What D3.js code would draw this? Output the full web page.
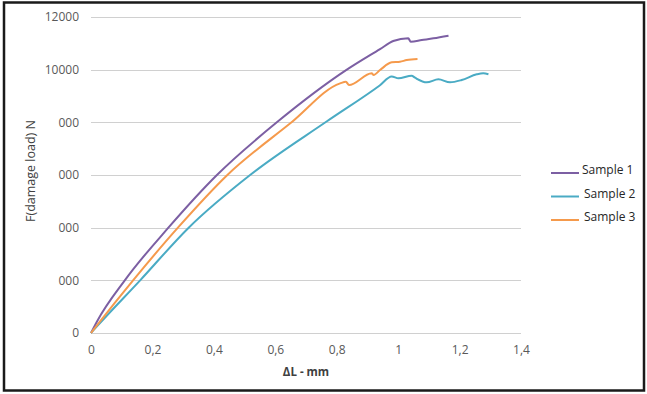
<!DOCTYPE html>
<html><head><meta charset="utf-8">
<script src="https://cdn.jsdelivr.net/npm/d3@7"></script>
<style>body{margin:0;background:#fff}svg{display:block}</style>
</head><body>
<script>
const seriesNames = ["Sample 1", "Sample 2", "Sample 3"];
const seriesColors = ["#7c5fa3", "#4aabc4", "#f59a4c"];
const xTicks = [0, 0.2, 0.4, 0.6, 0.8, 1, 1.2, 1.4];
const xTickLabels = ["0", "0,2", "0,4", "0,6", "0,8", "1", "1,2", "1,4"];
const yTicks = [0, 2000, 4000, 6000, 8000, 10000, 12000];
const yTickLabels = ["0", "000", "000", "000", "000", "10000", "12000"];

const sample1 = [[0,0],[0.02,450],[0.11,2000],[0.252,4000],[0.41,6000],[0.605,8000],[0.833,10000],[0.941,10780],[0.984,11087],[1.033,11190],[1.041,11062],[1.077,11125],[1.115,11190],[1.164,11290]];
const sample2 = [[0,0],[0.02,260],[0.16,2000],[0.318,4000],[0.518,6000],[0.767,8030],[0.94,9400],[0.979,9740],[1.001,9671],[1.044,9770],[1.055,9694],[1.093,9519],[1.131,9633],[1.169,9519],[1.207,9607],[1.256,9823],[1.277,9861],[1.294,9823]];
const sample3 = [[0,0],[0.02,300],[0.137,2000],[0.283,4000],[0.444,6000],[0.653,8000],[0.811,9481],[0.830,9542],[0.840,9417],[0.914,9861],[0.92,9800],[0.941,9986],[0.979,10278],[1.006,10300],[1.028,10366],[1.063,10404]];
const seriesData = [sample1, sample2, sample3];

const W = 647, H = 394;
const svg = d3.select("body").append("svg").attr("width", W).attr("height", H);
const font = "'Open Sans', sans-serif";

svg.append("rect").attr("x", 4).attr("y", 2.5).attr("width", 640).attr("height", 388)
  .attr("fill", "#fff").attr("stroke", "#1a1a1a").attr("stroke-width", 2.5);

const x = d3.scaleLinear().domain([0, 1.4]).range([91, 521]);
const y = d3.scaleLinear().domain([0, 12000]).range([333, 17]);

// gridlines
svg.append("g").selectAll("line").data(yTicks).join("line")
  .attr("x1", 91).attr("x2", 521)
  .attr("y1", d => Math.round(y(d)) + 0.5).attr("y2", d => Math.round(y(d)) + 0.5)
  .attr("stroke", "#d0d0d0").attr("stroke-width", 1.2);

// y axis labels
const yAxis = d3.axisLeft(y).tickValues(yTicks).tickSize(0).tickPadding(12)
  .tickFormat((d, i) => yTickLabels[i]);
const gy = svg.append("g").attr("transform", "translate(91,0)").call(yAxis);
gy.select(".domain").remove();
gy.selectAll("text").attr("font-family", font).attr("font-size", 12).attr("fill", "#595959");

// x axis labels
const xAxis = d3.axisBottom(x).tickValues(xTicks).tickSize(0).tickPadding(12)
  .tickFormat((d, i) => xTickLabels[i]);
const gx = svg.append("g").attr("transform", "translate(0,333)").call(xAxis);
gx.select(".domain").remove();
gx.selectAll("text").attr("font-family", font).attr("font-size", 12).attr("fill", "#595959");

// titles
svg.append("text").attr("x", 306).attr("y", 376).attr("text-anchor", "middle")
  .attr("font-family", font).attr("font-size", 11.5).attr("font-weight", "bold").attr("fill", "#404040")
  .text("ΔL - mm");
svg.append("text").attr("transform", "translate(35,171) rotate(-90)").attr("text-anchor", "middle")
  .attr("font-family", font).attr("font-size", 12.5).attr("fill", "#404040")
  .text("F(damage load) N");

// lines
const line = d3.line().x(d => x(d[0])).y(d => y(d[1])).curve(d3.curveMonotoneX);
svg.append("g").selectAll("path").data(seriesData).join("path")
  .attr("d", line).attr("fill", "none")
  .attr("stroke", (d, i) => seriesColors[i]).attr("stroke-width", 2)
  .attr("stroke-linejoin", "round");

// legend
const lg = svg.append("g").selectAll("g").data(seriesNames).join("g")
  .attr("transform", (d, i) => `translate(551,${173 + i * 23.5})`);
lg.append("line").attr("x1", 0).attr("x2", 28).attr("y1", 0).attr("y2", 0)
  .attr("stroke", (d, i) => seriesColors[i]).attr("stroke-width", 2);
lg.append("text").attr("x", (d, i) => i === 0 ? 31 : 33).attr("y", -2)
  .attr("dominant-baseline", "middle")
  .attr("font-family", font).attr("font-size", 12).attr("fill", "#262626")
  .text(d => d);
</script>
</body></html>
